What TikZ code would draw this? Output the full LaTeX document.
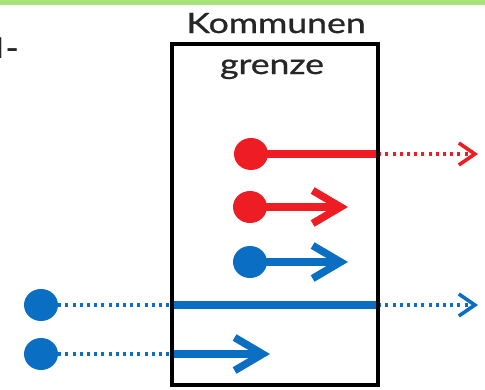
\documentclass[tikz,border=0pt]{standalone}
\usepackage{fontspec}
\usepackage{graphicx}
\setmainfont{Lato}
\newfontfamily\lblfont[FakeBold=0.8]{Lato}
\usetikzlibrary{arrows.meta,shapes.geometric}
\definecolor{bandgreen}{HTML}{A8E27A}
\definecolor{myred}{HTML}{EE1C23}
\definecolor{myblue}{HTML}{0A6FC2}
\tikzset{
  x=1pt, y=1pt,
  dotr/.style={ellipse, fill=myred, inner sep=0pt, minimum width=34pt, minimum height=32pt},
  dotb/.style={ellipse, fill=myblue, inner sep=0pt, minimum width=34pt, minimum height=32pt},
  solidflow/.style={line width=7.5pt},
  dotflow/.style={line width=3.2pt, dash pattern=on 3pt off 4.2pt},
  bigtip/.style={-{Straight Barb[length=28pt,width=33pt,line width=7.5pt]}},
  smalltip/.style={-{Straight Barb[length=16pt,width=22pt,line width=3.6pt]}},
  lbl/.style={font=\lblfont\fontsize{28}{30}\selectfont, inner sep=0pt, text=black!85},
  boxline/.style={draw=black, line width=4pt}
}
\begin{document}
\begin{tikzpicture}
\useasboundingbox (0,0) rectangle (485,-389);
\clip (0,0) rectangle (485,-389);
\fill[bandgreen] (0,0) rectangle (485,-4.5);
% partial text at left edge
\node[lbl, anchor=base east, font=\fontsize{28}{30}\selectfont\bfseries] (cut) at (19,-58) {\scalebox{1.27}[1]{d\kern1.5pt-}};
% labels
\node[lbl, anchor=base] (komm) at (276,-33) {\scalebox{1.27}[1]{Kommunen}};
\node[lbl, anchor=base] (gren) at (272,-74) {\scalebox{1.27}[1]{grenze}};
% box (outline drawn last)
\node[minimum width=206pt, minimum height=341pt, inner sep=0pt] (box) at (275,-214.5) {};
% dots
\node[dotr] (r1) at (251,-154) {};
\node[dotr] (r2) at (250,-207) {};
\node[dotb] (b3) at (250,-262) {};
\node[dotb] (b4) at (41,-305) {};
\node[dotb] (b5) at (41,-354) {};
% end points
\coordinate (r1e) at (478,-154);
\coordinate (r2e) at (348,-207);
\coordinate (b3e) at (348,-262);
\coordinate (b4e) at (478,-305);
\coordinate (b5e) at (270,-354);
% red flows
\draw[myred, solidflow] (r1.center) -- (box.east |- r1.center);
\draw[myred, dotflow, smalltip] (box.east |- r1.center) -- (r1e);
\draw[myred, solidflow, bigtip] (r2.center) -- (r2e);
% blue flows
\draw[myblue, solidflow, bigtip] (b3.center) -- (b3e);
\draw[myblue, dotflow] (b4.east) -- (box.west |- b4.center);
\draw[myblue, solidflow] (box.west |- b4.center) -- (box.east |- b4.center);
\draw[myblue, dotflow, smalltip] (box.east |- b4.center) -- (b4e);
\draw[myblue, dotflow] (b5.east) -- (box.west |- b5.center);
\draw[myblue, solidflow, bigtip] (box.west |- b5.center) -- (b5e);
% box outline
\draw[boxline] (box.south west) rectangle (box.north east);
\end{tikzpicture}
\end{document}
